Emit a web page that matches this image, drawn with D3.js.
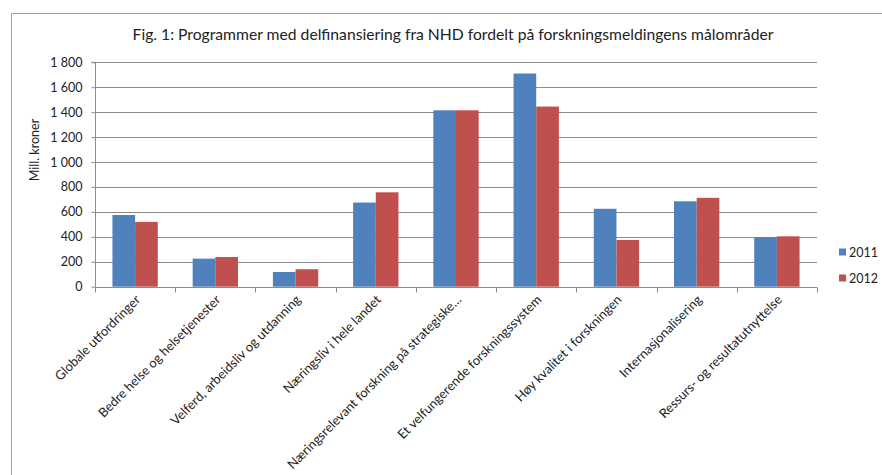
<!DOCTYPE html>
<html><head><meta charset="utf-8">
<script src="https://cdn.jsdelivr.net/npm/d3@7/dist/d3.min.js"></script>
<style>
body{margin:0;background:#fff;}
text{font-family:Lato,"Open Sans",sans-serif;fill:#222;}
</style></head>
<body><svg id="c" width="882" height="475"></svg>
<script>
const categories = ["Globale utfordringer","Bedre helse og helsetjenester","Velferd, arbeidsliv og utdanning","Næringsliv i hele landet","Næringsrelevant forskning på strategiske…","Et velfungerende forskningssystem","Høy kvalitet i forskningen","Internasjonalisering","Ressurs- og resultatutnyttelse"];
const series = ["2011","2012"];
const values2011 = [575,225,118,675,1415,1710,625,685,398];
const values2012 = [520,238,140,757,1415,1445,375,713,404];
const yTicks = [0,200,400,600,800,1000,1200,1400,1600,1800];
const colors = ["#4f81bd","#c0504d"];
const title = "Fig. 1: Programmer med delfinansiering fra NHD fordelt på forskningsmeldingens målområder";
const yTitle = "Mill. kroner";

const svg = d3.select("#c");
const L=95,R=817,T=62.3,B=286.7;
// frame
svg.append("line").attr("x1",11.5).attr("x2",882).attr("y1",13.5).attr("y2",13.5).attr("stroke","#a0a0a0").attr("stroke-width",1);
svg.append("line").attr("x1",11.5).attr("x2",11.5).attr("y1",13.5).attr("y2",475).attr("stroke","#a0a0a0").attr("stroke-width",1);

svg.append("text").attr("x",453).attr("y",40).attr("text-anchor","middle").attr("font-size",15.7).text(title);

const x0 = d3.scaleBand().domain(categories).range([L,R]).paddingInner(0).paddingOuter(0);
const x1 = d3.scaleBand().domain(series).range([0,x0.bandwidth()]).paddingInner(0).paddingOuter(0.77);
const y = d3.scaleLinear().domain([0,1800]).range([B,T]);
const fmt = d => d3.format(",")(d).replace(",", " ");

// grid
svg.append("g").selectAll("line").data(yTicks.filter(d=>d>0)).join("line")
 .attr("x1",L).attr("x2",R).attr("y1",d=>Math.round(y(d))+0.5).attr("y2",d=>Math.round(y(d))+0.5)
 .attr("stroke","#8c8c8c").attr("stroke-width",1);

// y axis
const ya = svg.append("g").attr("transform",`translate(${L+0.5},0)`).call(d3.axisLeft(y).tickValues(yTicks).tickFormat(fmt).tickSize(4).tickPadding(9));
ya.selectAll("path,line").attr("stroke","#8c8c8c");
ya.select(".domain").attr("d",`M-4,${T}H0V${B}`);
ya.selectAll("text").attr("font-size",12.5).attr("font-family","Lato").attr("fill","#222");

// bars
const data = categories.map((c,i)=>({c,v:[values2011[i],values2012[i]]}));
const g = svg.append("g").selectAll("g").data(data).join("g").attr("transform",d=>`translate(${x0(d.c)},0)`);
g.selectAll("rect").data(d=>d.v.map((v,j)=>({s:series[j],v,j}))).join("rect")
 .attr("x",d=>x1(d.s)).attr("width",x1.bandwidth()).attr("y",d=>y(d.v)).attr("height",d=>B-y(d.v)).attr("fill",d=>colors[d.j]);

// x axis
const xa = svg.append("g").attr("transform",`translate(0,${Math.round(B)+0.5})`);
xa.append("line").attr("x1",L).attr("x2",R).attr("stroke","#8c8c8c");
const bounds = categories.map(c=>x0(c)).concat([R]);
xa.selectAll("line.t").data(bounds).join("line").attr("class","t").attr("x1",d=>Math.round(d)+0.5).attr("x2",d=>Math.round(d)+0.5).attr("y1",0).attr("y2",5).attr("stroke","#8c8c8c");
xa.selectAll("text").data(categories).join("text")
 .attr("transform",d=>`translate(${x0(d)+x0.bandwidth()/2+6},13) rotate(-45)`)
 .attr("text-anchor","end").attr("font-size",12.9).text(d=>d);

// y title
svg.append("text").attr("transform",`translate(39,150) rotate(-90)`).attr("text-anchor","middle").attr("font-size",12.5).text(yTitle);

// legend
const lg = svg.append("g").selectAll("g").data(series).join("g").attr("transform",(d,i)=>`translate(839,${252+i*26})`);
lg.append("rect").attr("x",0).attr("y",-3.5).attr("width",7).attr("height",7).attr("fill",(d,i)=>colors[i]);
lg.append("text").attr("x",10).attr("y",4.5).attr("font-size",12.5).text(d=>d);
</script></body></html>
